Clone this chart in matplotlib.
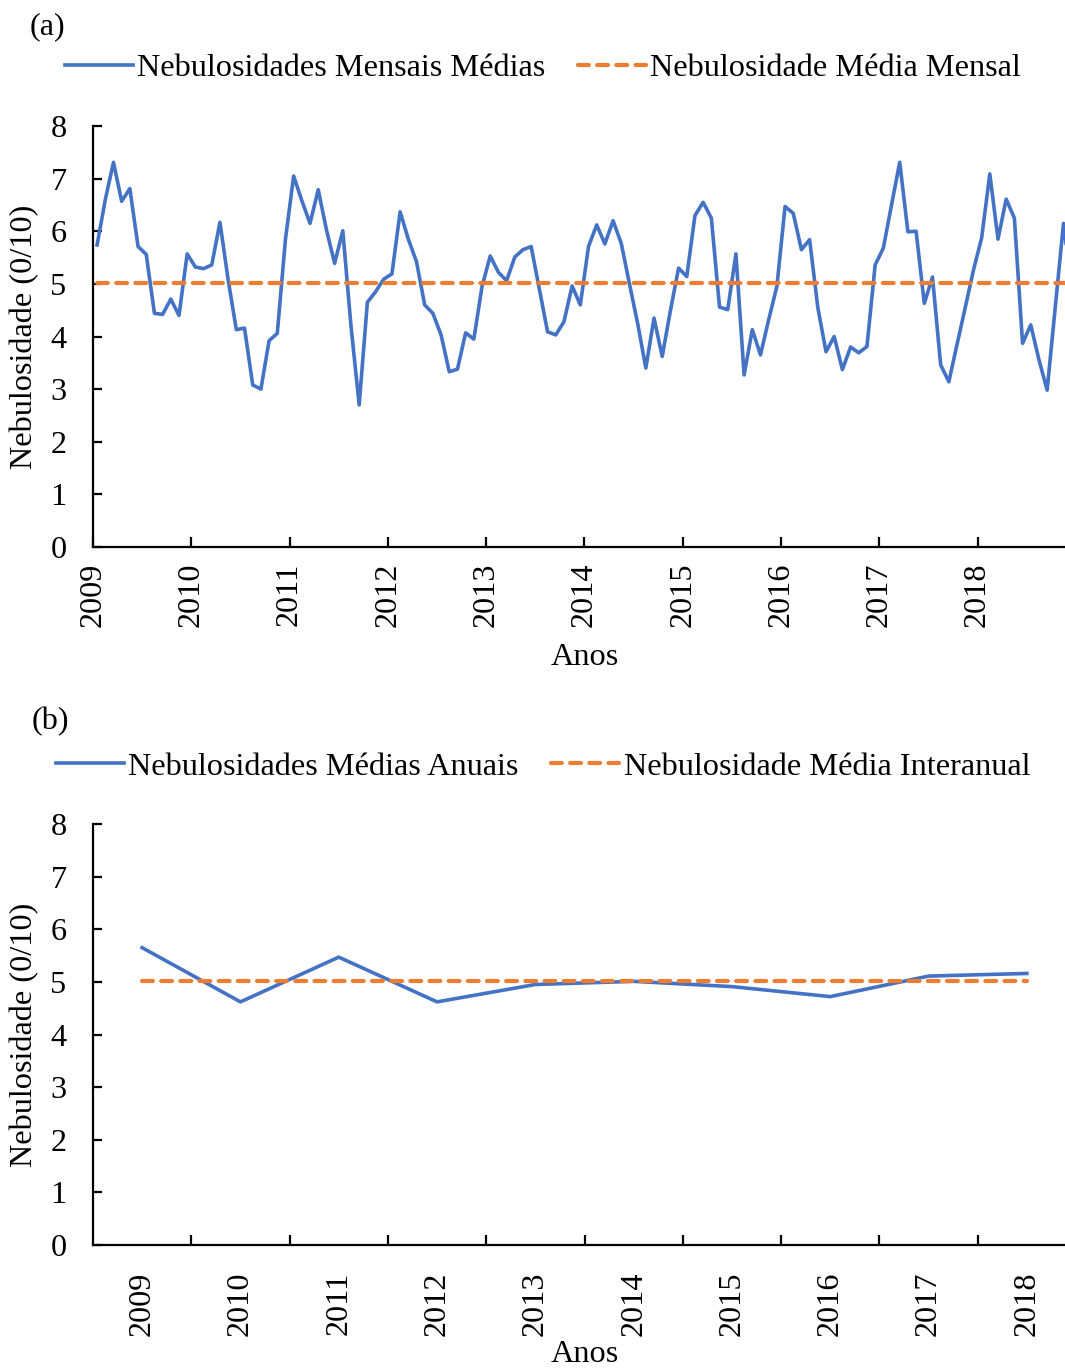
import matplotlib
matplotlib.use('Agg')
import matplotlib.pyplot as plt
import numpy as np

plt.rcParams['font.family'] = ['Liberation Serif', 'DejaVu Serif']

years = ['2009', '2010', '2011', '2012', '2013', '2014', '2015', '2016', '2017', '2018']

# Monthly mean cloudiness (0/10), Jan 2009 .. Dec 2018
monthly = [
    5.74, 6.60, 7.31, 6.57, 6.81, 5.71, 5.56, 4.44, 4.42, 4.71, 4.40, 5.57,   # 2009
    5.32, 5.29, 5.36, 6.17, 5.08, 4.13, 4.16, 3.08, 3.00, 3.92, 4.06, 5.85,   # 2010
    7.05, 6.58, 6.15, 6.79, 6.03, 5.39, 6.01, 4.20, 2.70, 4.65, 4.85, 5.09,   # 2011
    5.19, 6.37, 5.85, 5.42, 4.60, 4.44, 4.03, 3.33, 3.38, 4.07, 3.95, 4.95,   # 2012
    5.53, 5.22, 5.06, 5.51, 5.65, 5.71, 4.90, 4.09, 4.03, 4.28, 4.96, 4.60,   # 2013
    5.71, 6.12, 5.76, 6.20, 5.77, 5.00, 4.25, 3.40, 4.35, 3.62, 4.49, 5.30,   # 2014
    5.14, 6.30, 6.55, 6.25, 4.56, 4.51, 5.57, 3.27, 4.13, 3.65, 4.32, 4.95,   # 2015
    6.47, 6.34, 5.65, 5.84, 4.55, 3.71, 4.00, 3.37, 3.80, 3.69, 3.81, 5.36,   # 2016
    5.68, 6.50, 7.31, 5.99, 6.00, 4.63, 5.13, 3.46, 3.14, 3.85, 4.55, 5.26,   # 2017
    5.87, 7.09, 5.85, 6.61, 6.25, 3.87, 4.22, 3.56, 2.98, 4.57, 6.15, 4.90,   # 2018
]
mean_monthly = 5.02

annual = [5.65, 4.62, 5.47, 4.62, 4.95, 5.01, 4.91, 4.72, 5.11, 5.16]
mean_interannual = 5.02

label_a1 = 'Nebulosidades Mensais Médias'
label_a2 = 'Nebulosidade Média Mensal'
label_b1 = 'Nebulosidades Médias Anuais'
label_b2 = 'Nebulosidade Média Interanual'
ylabel = 'Nebulosidade (0/10)'
xlabel = 'Anos'

BLUE = '#4472C4'
ORANGE = '#ED7D31'
FS = 23.2

W, H = 1065, 1369
fig = plt.figure(figsize=(W / 100, H / 100), dpi=100)

def fx(px):
    return px / W

def fy(py):
    return 1 - py / H

def style_axes(ax):
    for s in ['top', 'right']:
        ax.spines[s].set_visible(False)
    for s in ['left', 'bottom']:
        ax.spines[s].set_linewidth(1.6)
    ax.set_ylim(0, 8)
    ax.set_yticks(range(0, 9))
    ax.tick_params(axis='y', direction='in', length=6.5, width=1.6, pad=19, labelsize=FS)
    ax.tick_params(axis='x', labelsize=FS)
    ax.set_ylabel(ylabel, fontsize=FS)

# ---------- (a) ----------
ax1 = fig.add_axes([fx(93), fy(547), fx(1065) - fx(93), fy(126) - fy(547)])
n = len(monthly)
xm = np.arange(n) + 0.5
ax1.plot(xm, monthly, color=BLUE, lw=2.6, solid_joinstyle='round', label=label_a1)
ax1.plot(xm, [mean_monthly] * n, color=ORANGE, lw=3.0, dashes=(2.6, 2.0),
         dash_capstyle='round', label=label_a2)
style_axes(ax1)
ax1.set_xticks(np.arange(0, n, 12))
ax1.set_xticklabels(years, rotation=90, va='top', ha='center')
ax1.tick_params(axis='x', direction='in', length=7, width=1.6, pad=11)
ax1.set_xlim(0, (1065 - 93) / 8.19)
ax1.set_xlabel(xlabel, fontsize=FS)
ax1.xaxis.set_label_coords((585 - 93) / (1065 - 93), -(657 - 547) / 421, transform=ax1.transAxes)
ax1.xaxis.label.set_va('center')
ax1.yaxis.set_label_coords(-(93 - 25) / (1065 - 93), 0.5)
ax1.yaxis.label.set_va('center')

fig.legend(handles=ax1.get_lines(), loc='center', bbox_to_anchor=(fx(543), fy(68)),
           ncol=2, frameon=False, fontsize=FS, handlelength=2.1, handletextpad=0.15,
           columnspacing=1.0, borderaxespad=0)
fig.text(fx(30), fy(27), '(a)', fontsize=FS, ha='left', va='center')

# ---------- (b) ----------
ax2 = fig.add_axes([fx(93), fy(1245), fx(1065) - fx(93), fy(824) - fy(1245)])
xa = np.arange(len(annual))
ax2.plot(xa, annual, color=BLUE, lw=2.6, solid_joinstyle='round', label=label_b1)
ax2.plot(xa, [mean_interannual] * len(annual), color=ORANGE, lw=3.0, dashes=(2.6, 2.0),
         dash_capstyle='round', label=label_b2)
style_axes(ax2)
ax2.set_xticks(xa)
ax2.set_xticklabels(years, rotation=90, va='top', ha='center')
ax2.tick_params(axis='x', which='major', length=0, pad=19)
ax2.set_xticks(np.arange(len(annual)) + 0.5, minor=True)
ax2.tick_params(axis='x', which='minor', direction='in', length=7, width=1.6)
ax2.set_xlim(-0.5, -0.5 + (1065 - 93) / 98.3)
ax2.set_xlabel(xlabel, fontsize=FS)
ax2.xaxis.set_label_coords((585 - 93) / (1065 - 93), -(1355 - 1245) / 421, transform=ax2.transAxes)
ax2.xaxis.label.set_va('center')
ax2.yaxis.set_label_coords(-(93 - 25) / (1065 - 93), 0.5)
ax2.yaxis.label.set_va('center')

fig.legend(handles=ax2.get_lines(), loc='center', bbox_to_anchor=(fx(543), fy(767)),
           ncol=2, frameon=False, fontsize=FS, handlelength=2.1, handletextpad=0.15,
           columnspacing=1.0, borderaxespad=0)
fig.text(fx(32), fy(722), '(b)', fontsize=FS, ha='left', va='center')

fig.savefig('out.png', dpi=100)
